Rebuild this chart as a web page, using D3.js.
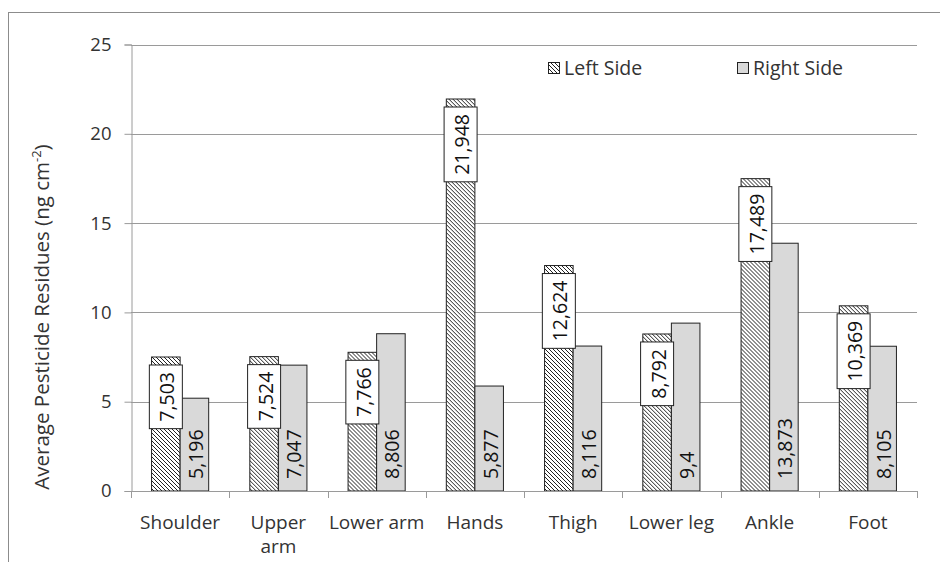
<!DOCTYPE html>
<html>
<head>
<meta charset="utf-8">
<script src="https://cdn.jsdelivr.net/npm/d3@7"></script>
<style>
  html, body { margin: 0; padding: 0; background: #fff; }
  svg { display: block; font-family: "Open Sans", "DejaVu Sans", sans-serif; }
</style>
</head>
<body>
<svg id="chart" width="940" height="562"></svg>
<script>
// Chart data
const categories = ['Shoulder', 'Upper arm', 'Lower arm', 'Hands', 'Thigh', 'Lower leg', 'Ankle', 'Foot'];
const categoryLines = [['Shoulder'], ['Upper', 'arm'], ['Lower arm'], ['Hands'], ['Thigh'], ['Lower leg'], ['Ankle'], ['Foot']];
const leftSide = [7.503, 7.524, 7.766, 21.948, 12.624, 8.792, 17.489, 10.369];
const rightSide = [5.196, 7.047, 8.806, 5.877, 8.116, 9.4, 13.873, 8.105];
const leftLabels = ['7,503', '7,524', '7,766', '21,948', '12,624', '8,792', '17,489', '10,369'];
const rightLabels = ['5,196', '7,047', '8,806', '5,877', '8,116', '9,4', '13,873', '8,105'];
const yTicks = [0, 5, 10, 15, 20, 25];
const seriesNames = ['Left Side', 'Right Side'];

const svg = d3.select('#chart');
const textColor = '#333';
const gridColor = '#9a9a9a';
const rightFill = '#d9d9d9';
const barStroke = '#222';

// Plot area
const plot = { left: 131, right: 917, top: 44.5, bottom: 491 };

// Outer chart border (right and bottom edges sit outside the picture)
svg.append('rect')
  .attr('x', 8.5).attr('y', 12.5)
  .attr('width', 960).attr('height', 580)
  .attr('fill', 'none')
  .attr('stroke', '#8c8c8c');

// Hatch pattern for the left side
const defs = svg.append('defs');
const pat = defs.append('pattern')
  .attr('id', 'hatch')
  .attr('patternUnits', 'userSpaceOnUse')
  .attr('width', 4).attr('height', 4);
pat.append('rect').attr('width', 4).attr('height', 4).attr('fill', '#fff');
pat.append('path')
  .attr('d', 'M-1,-1 L5,5 M-1,3 L1,5 M3,-1 L5,1')
  .attr('stroke', '#222')
  .attr('stroke-width', 1);

const x = d3.scaleBand()
  .domain(categories)
  .range([plot.left, plot.right])
  .paddingInner(0).paddingOuter(0);

const xSub = d3.scaleBand()
  .domain(seriesNames)
  .range([0, x.bandwidth()])
  .paddingInner(0)
  .paddingOuter(0.72);

const y = d3.scaleLinear()
  .domain([0, 25])
  .range([plot.bottom, plot.top]);

// Gridlines
svg.append('g')
  .selectAll('line')
  .data(yTicks.filter(d => d > 0))
  .join('line')
  .attr('x1', plot.left).attr('x2', plot.right)
  .attr('y1', d => Math.round(y(d)) + 0.5)
  .attr('y2', d => Math.round(y(d)) + 0.5)
  .attr('stroke', gridColor);

// Y axis
const yAxis = svg.append('g')
  .attr('transform', `translate(${plot.left + 0.5},0)`)
  .call(d3.axisLeft(y).tickValues(yTicks).tickSize(7).tickPadding(13).tickFormat(d3.format('d')));
yAxis.select('.domain').attr('stroke', gridColor);
yAxis.selectAll('.tick line').attr('stroke', gridColor);
yAxis.selectAll('.tick text')
  .attr('fill', textColor)
  .attr('font-size', 18.5)
  .attr('font-family', '"Open Sans", sans-serif');

// Y axis title
svg.append('text')
  .attr('transform', `translate(49,317) rotate(-90)`)
  .attr('text-anchor', 'middle')
  .attr('fill', textColor)
  .attr('font-size', 20.5)
  .call(t => {
    t.append('tspan').text('Average Pesticide Residues (ng cm');
    t.append('tspan').attr('font-size', 13).attr('dy', -8).text('-2');
    t.append('tspan').attr('dy', 8).text(')');
  });

// Bars
const groups = svg.append('g')
  .selectAll('g')
  .data(categories)
  .join('g')
  .attr('transform', d => `translate(${x(d)},0)`);

const bw = xSub.bandwidth();

groups.append('rect')
  .attr('x', xSub('Left Side'))
  .attr('y', (d, i) => y(leftSide[i]))
  .attr('width', bw)
  .attr('height', (d, i) => y(0) - y(leftSide[i]))
  .attr('fill', 'url(#hatch)')
  .attr('stroke', barStroke)
  .attr('stroke-width', 1);

groups.append('rect')
  .attr('x', xSub('Right Side'))
  .attr('y', (d, i) => y(rightSide[i]))
  .attr('width', bw)
  .attr('height', (d, i) => y(0) - y(rightSide[i]))
  .attr('fill', rightFill)
  .attr('stroke', barStroke)
  .attr('stroke-width', 1);

// X axis
const xAxisG = svg.append('g');
xAxisG.append('line')
  .attr('x1', plot.left).attr('x2', plot.right)
  .attr('y1', plot.bottom + 0.5).attr('y2', plot.bottom + 0.5)
  .attr('stroke', gridColor);
xAxisG.selectAll('line.tick')
  .data(categories.map(c => x(c)).concat([plot.right]))
  .join('line')
  .attr('class', 'tick')
  .attr('x1', d => Math.round(d) + 0.5).attr('x2', d => Math.round(d) + 0.5)
  .attr('y1', plot.bottom).attr('y2', plot.bottom + 7)
  .attr('stroke', gridColor);
xAxisG.selectAll('text')
  .data(categories)
  .join('text')
  .attr('x', d => x(d) + x.bandwidth() / 2)
  .attr('y', 529)
  .attr('text-anchor', 'middle')
  .attr('fill', textColor)
  .attr('font-size', 19)
  .each(function (d, i) {
    const t = d3.select(this);
    categoryLines[i].forEach((line, j) => {
      t.append('tspan')
        .attr('x', x(d) + x.bandwidth() / 2)
        .attr('dy', j === 0 ? 0 : 24)
        .text(line);
    });
  });

// Left-side value labels: white boxes near bar tops
const labelFont = 19.5;
groups.each(function (d, i) {
  const g = d3.select(this);
  const cx = xSub('Left Side') + bw / 2;
  const top = y(leftSide[i]) + 8;
  const txt = g.append('text')
    .attr('font-size', labelFont)
    .attr('fill', '#111')
    .attr('text-anchor', 'middle')
    .attr('dominant-baseline', 'central')
    .text(leftLabels[i]);
  const len = txt.node().getComputedTextLength();
  const h = len + 14;
  txt.attr('transform', `translate(${cx + 1},${top + h / 2}) rotate(-90)`);
  g.insert('rect', 'text')
    .attr('x', cx - 16.5)
    .attr('y', top)
    .attr('width', 33)
    .attr('height', h)
    .attr('fill', '#fff')
    .attr('stroke', barStroke)
    .attr('stroke-width', 1);
});

// Right-side value labels: inside base of bars
groups.append('text')
  .attr('transform', (d, i) => `translate(${xSub('Right Side') + bw / 2 + 1},${plot.bottom - 12}) rotate(-90)`)
  .attr('font-size', labelFont)
  .attr('fill', '#111')
  .attr('text-anchor', 'start')
  .attr('dominant-baseline', 'central')
  .text((d, i) => rightLabels[i]);

// Legend
const legend = svg.append('g');
const legendItems = [
  { name: 'Left Side', x: 548, fill: 'url(#hatch)' },
  { name: 'Right Side', x: 737, fill: rightFill }
];
legendItems.forEach(item => {
  legend.append('rect')
    .attr('x', item.x + 0.5).attr('y', 62.5)
    .attr('width', 11).attr('height', 11)
    .attr('fill', item.fill)
    .attr('stroke', barStroke);
  legend.append('text')
    .attr('x', item.x + 16)
    .attr('y', 75)
    .attr('font-size', 19.5)
    .attr('fill', textColor)
    .text(item.name);
});
</script>
</body>
</html>
